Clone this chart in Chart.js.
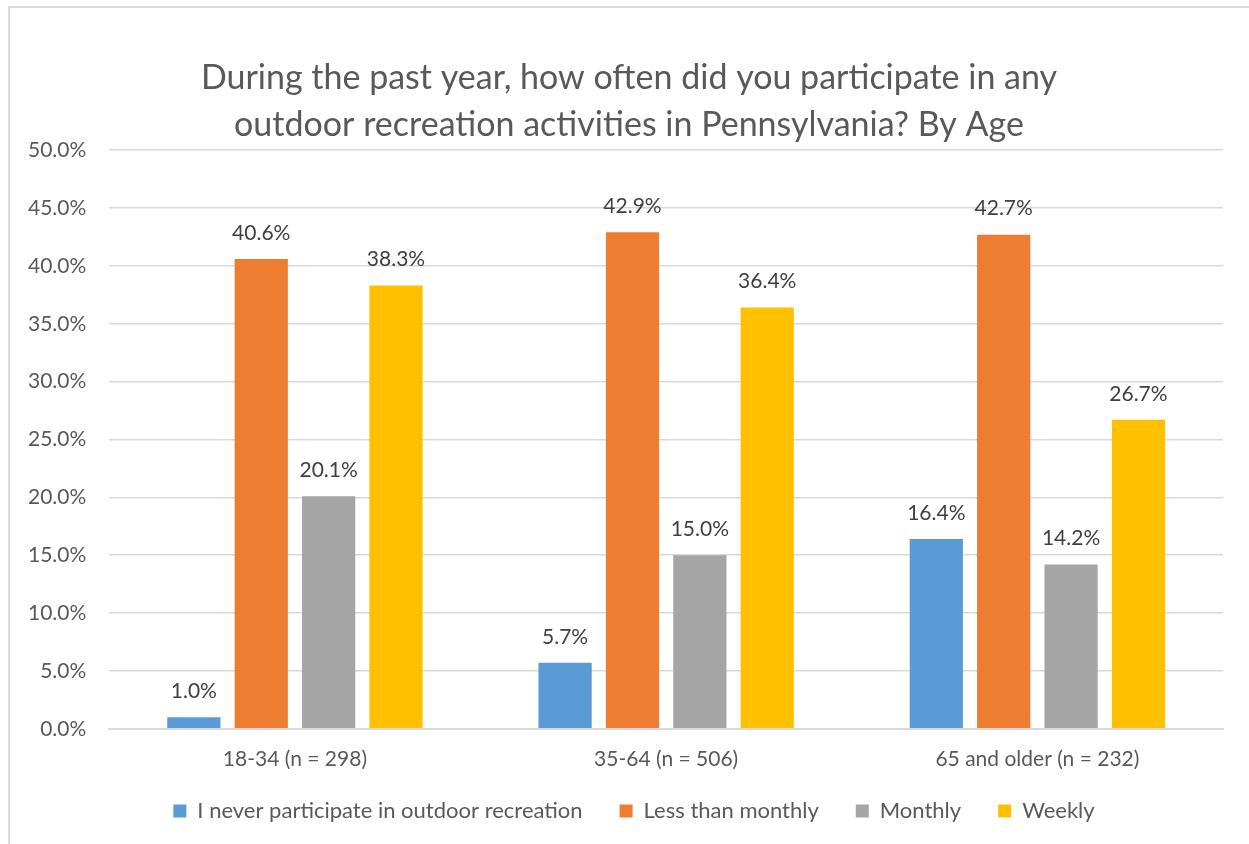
<!DOCTYPE html>
<html>
<head>
<meta charset="utf-8">
<script src="https://cdn.jsdelivr.net/npm/chart.js@4/dist/chart.umd.min.js"></script>
<style>
html,body{margin:0;padding:0;background:#fff;overflow:hidden;}
#frame{position:absolute;left:8px;top:6px;width:1300px;height:900px;border:2px solid #d9d9d9;box-sizing:border-box;}
#wrap{position:absolute;left:0;top:0;width:1249px;height:844px;}
</style>
</head>
<body>
<div id="frame"></div>
<div id="wrap"><canvas id="c" width="1249" height="844"></canvas></div>
<script>
const categories = ["18-34 (n = 298)", "35-64 (n = 506)", "65 and older (n = 232)"];
const seriesNames = ["I never participate in outdoor recreation", "Less than monthly", "Monthly", "Weekly"];
const neverVals = [1.0, 5.7, 16.4];
const lessMonthlyVals = [40.6, 42.9, 42.7];
const monthlyVals = [20.1, 15.0, 14.2];
const weeklyVals = [38.3, 36.4, 26.7];
const colors = ["#5B9BD5", "#ED7D31", "#A5A5A5", "#FFC000"];
const titleLines = ["During the past year, how often did you participate in any", "outdoor recreation activities in Pennsylvania? By Age"];

const FONT = "Lato, 'Open Sans', sans-serif";
const TXT = "#595959";
const LEGEND_TRIM = 29;
const LEGEND_LIFT = 27;
const LEGEND_SHIFT = 40;
const TITLE_SHIFT = 30;

const dataLabels = {
  id: "dataLabels",
  afterDatasetsDraw(chart) {
    const ctx = chart.ctx;
    ctx.save();
    ctx.font = "21px " + FONT;
    ctx.fillStyle = "#404040";
    ctx.textAlign = "center";
    ctx.textBaseline = "middle";
    chart.data.datasets.forEach((ds, i) => {
      const meta = chart.getDatasetMeta(i);
      meta.data.forEach((bar, j) => {
        ctx.fillText(ds.data[j].toFixed(1) + "%", bar.x, bar.y - 26);
      });
    });
    ctx.restore();
  }
};

const layoutTweak = {
  id: "layoutTweak",
  beforeUpdate(chart) {
    const lg = chart.legend;
    if (lg && !lg._trimmed) {
      const orig = lg.fit.bind(lg);
      lg.fit = function () { orig(); this.height -= LEGEND_TRIM; };
      lg._trimmed = true;
    }
  },
  afterLayout(chart) {
    const lg = chart.legend;
    if (lg) { lg.top -= LEGEND_LIFT; lg.left += LEGEND_SHIFT; }
    const tb = chart.titleBlock;
    if (tb) { tb.left += TITLE_SHIFT; }
  }
};

const allVals = [neverVals, lessMonthlyVals, monthlyVals, weeklyVals];
new Chart(document.getElementById("c"), {
  type: "bar",
  data: {
    labels: categories,
    datasets: seriesNames.map((n, i) => ({
      label: n,
      data: allVals[i],
      backgroundColor: colors[i],
      categoryPercentage: 0.726,
      barPercentage: 0.79
    }))
  },
  options: {
    responsive: false,
    animation: false,
    layout: { padding: { left: 5, right: 26, top: 54, bottom: 14 } },
    plugins: {
      title: {
        display: true,
        text: titleLines,
        color: TXT,
        font: { family: FONT, size: 34, weight: "normal", lineHeight: 1.4 },
        padding: { top: 0, bottom: 1 }
      },
      legend: {
        position: "bottom",
        labels: {
          color: TXT,
          font: { family: FONT, size: 22 },
          boxWidth: 13,
          boxHeight: 13,
          padding: 37
        }
      },
      tooltip: { enabled: false }
    },
    scales: {
      x: {
        grid: { display: false, drawTicks: false },
        border: { color: "#d9d9d9", width: 2 },
        ticks: { color: TXT, font: { family: FONT, size: 21 }, padding: 18 }
      },
      y: {
        min: 0, max: 50,
        grid: { color: "#d9d9d9", lineWidth: 1.5, drawTicks: false },
        border: { display: false },
        ticks: {
          stepSize: 5, color: TXT, font: { family: FONT, size: 21 }, padding: 23,
          callback: v => v.toFixed(1) + "%"
        }
      }
    }
  },
  plugins: [dataLabels, layoutTweak]
});
</script>
</body>
</html>
